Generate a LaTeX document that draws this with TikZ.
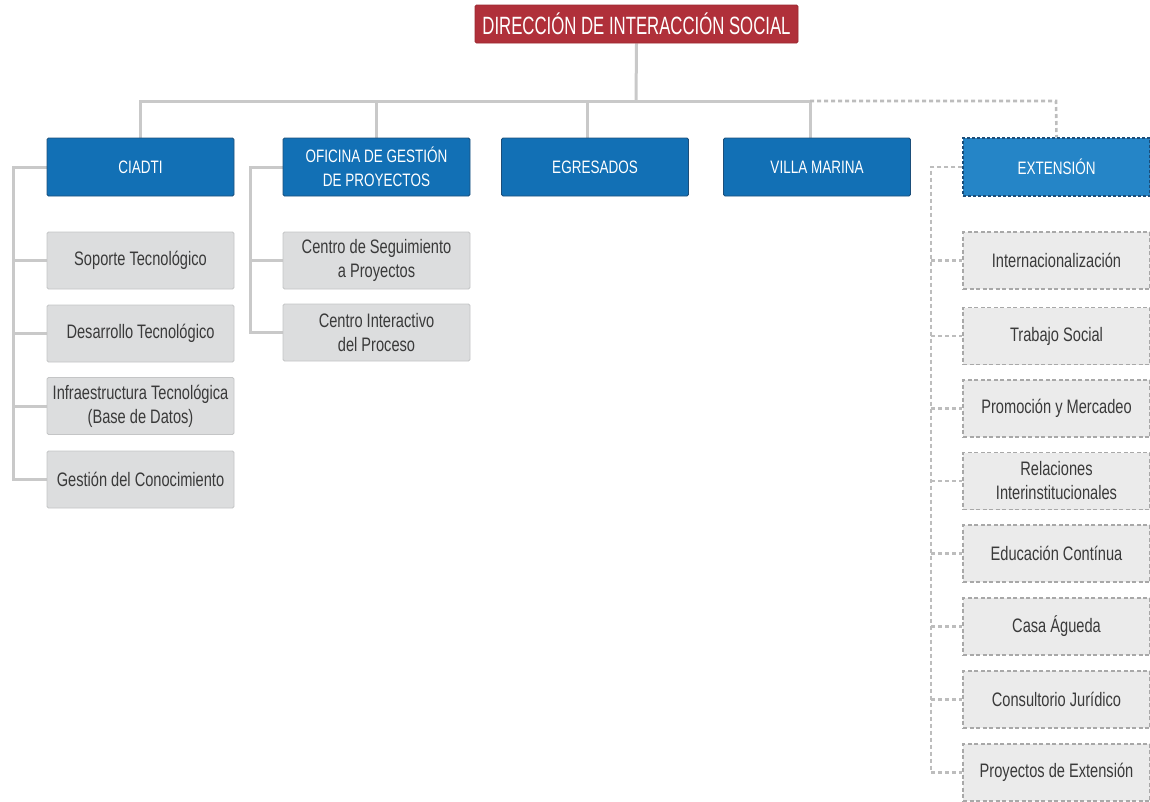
\documentclass[tikz,border=0pt]{standalone}
\usepackage{fontspec}
\setmainfont{Liberation Sans}[FakeStretch=0.75]
\newfontfamily\titlefont{Liberation Sans}[FakeStretch=0.67]
\usetikzlibrary{backgrounds}
\begin{document}
\begin{tikzpicture}[x=1pt,y=-1pt,
  every node/.style={inner sep=0pt, align=center, font=\fontsize{19.5}{24}\selectfont},
  topbox/.style={fill=redc, draw=redd, line width=0.8pt, rounded corners=1.5pt, minimum width=323pt, minimum height=38pt, text=white, font=\titlefont\fontsize{25}{28}\selectfont},
  lvbox/.style={fill=bluec, draw=blued, line width=0.8pt, rounded corners=1.5pt, minimum width=187pt, minimum height=58pt, text=white, font=\fontsize{18}{24}\selectfont},
  extbox/.style={fill=bluel, draw=blued, dash pattern=on 3pt off 2pt, line width=1.3pt, minimum width=187pt, minimum height=58pt, text=white, font=\fontsize{18}{24}\selectfont},
  subbox/.style={fill=greyf, draw=greyd, line width=0.8pt, rounded corners=1.5pt, minimum width=187pt, minimum height=57pt, text=textc},
  extsub/.style={fill=greyl, draw=greyb, dash pattern=on 4pt off 2.5pt, line width=1.3pt, minimum width=187pt, minimum height=57pt, text=textc},
  link/.style={draw=linec, line width=3pt},
  dlink/.style={draw=dotc, line width=2.6pt, dash pattern=on 4pt off 3pt}
]
\definecolor{redc}{HTML}{B0303A}
\definecolor{redd}{HTML}{9A2830}
\definecolor{bluec}{HTML}{1270B5}
\definecolor{blued}{HTML}{1B4E7A}
\definecolor{bluel}{HTML}{2585C7}
\definecolor{greyf}{HTML}{DCDDDE}
\definecolor{greyd}{HTML}{C4C5C6}
\definecolor{greyl}{HTML}{EBEBEB}
\definecolor{greyb}{HTML}{A8A8A8}
\definecolor{textc}{HTML}{3A3A3A}
\definecolor{linec}{HTML}{C9C9C9}
\definecolor{dotc}{HTML}{BDBDBD}
\useasboundingbox (0,0) rectangle (1150,801);

\coordinate (hub) at (636,101);
\coordinate (hl) at (140,101);
\coordinate (hr) at (810,101);
\coordinate (he) at (1056,101);
\coordinate (hegr) at (587,101);
\coordinate (cx) at (13,0);
\coordinate (ox) at (250,0);
\coordinate (ex) at (931,0);

\node[topbox] (top) at (636.5,24) {DIRECCIÓN DE INTERACCIÓN SOCIAL};
\node[lvbox] (ciadti) at (140.5,167) {CIADTI};
\node[lvbox] (ofi) at (376.5,167) {OFICINA DE GESTIÓN\\DE PROYECTOS};
\node[lvbox] (egr) at (595,167) {EGRESADOS};
\node[lvbox] (vm) at (817,167) {VILLA MARINA};

\node[subbox] (c1) at (140.5,260.5) {Soporte Tecnológico};
\node[subbox] (c2) at (140.5,333.5) {Desarrollo Tecnológico};
\node[subbox] (c3) at (140.5,406) {Infraestructura Tecnológica\\(Base de Datos)};
\node[subbox] (c4) at (140.5,479.5) {Gestión del Conocimiento};

\node[subbox] (o1) at (376.5,260.5) {Centro de Seguimiento\\a Proyectos};
\node[subbox] (o2) at (376.5,332.5) {Centro Interactivo\\del Proceso};

\node[extbox] (ext) at (1056.5,167) {EXTENSIÓN};
\node[extsub] (e1) at (1056.5,260.5) {Internacionalización};
\node[extsub] (e2) at (1056.5,336) {Trabajo Social};
\node[extsub] (e3) at (1056.5,408.5) {Promoción y Mercadeo};
\node[extsub] (e4) at (1056.5,481) {Relaciones\\Interinstitucionales};
\node[extsub] (e5) at (1056.5,553.5) {Educación Contínua};
\node[extsub] (e6) at (1056.5,626.5) {Casa Águeda};
\node[extsub] (e7) at (1056.5,699.5) {Consultorio Jurídico};
\node[extsub] (e8) at (1056.5,772.5) {Proyectos de Extensión};

\begin{scope}[on background layer]
  \draw[link] (top.south) -- (hub);
  \draw[link] (ciadti.north) -- (ciadti.north |- hl) -- (hr) -- (hr |- vm.north);
  \draw[link] (hub -| ofi.north) -- (ofi.north);
  \draw[link] (hegr) -- (hegr |- egr.north);
  \draw[dlink] (hr) -- (he) -- (ext.north);
  % CIADTI children
  \draw[link] (ciadti.west) -- (cx |- ciadti.west) -- (cx |- c4.west) -- (c4.west);
  \foreach \c in {c1,c2,c3} \draw[link] (cx |- \c.west) -- (\c.west);
  % Oficina children
  \draw[link] (ofi.west) -- (ox |- ofi.west) -- (ox |- o2.west) -- (o2.west);
  \draw[link] (ox |- o1.west) -- (o1.west);
  % Extension children
  \draw[dlink] (ext.west) -- (ex |- ext.west) -- (ex |- e8.west) -- (e8.west);
  \foreach \c in {e1,e2,e3,e4,e5,e6,e7} \draw[dlink] (ex |- \c.west) -- (\c.west);
\end{scope}
\end{tikzpicture}
\end{document}
